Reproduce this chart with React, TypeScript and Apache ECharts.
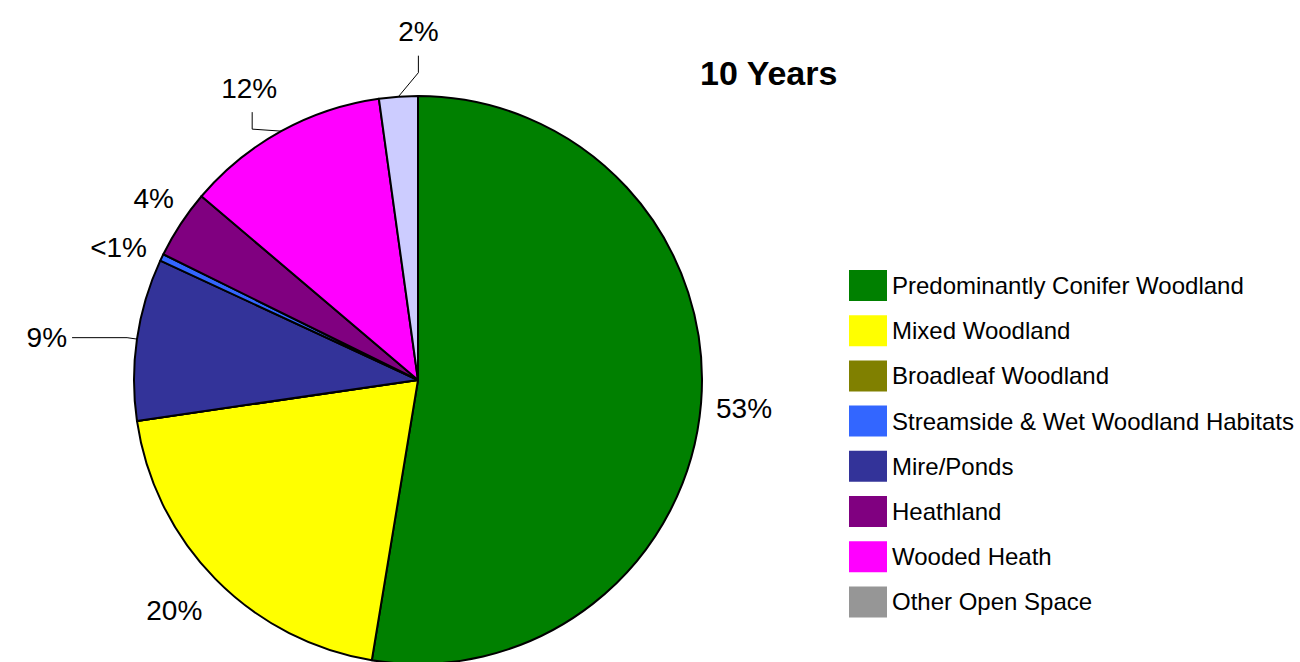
import React, { useEffect, useRef } from "react";
import * as echarts from "echarts";

// ---- data ----
const TITLE = "10 Years";

// legend order
const LEGEND_NAMES = [
  "Predominantly Conifer Woodland",
  "Mixed Woodland",
  "Broadleaf Woodland",
  "Streamside & Wet Woodland Habitats",
  "Mire/Ponds",
  "Heathland",
  "Wooded Heath",
  "Other Open Space",
];

// order of slices clockwise from 12 o'clock, as drawn
const SLICE_NAMES = [
  "Predominantly Conifer Woodland",
  "Mixed Woodland",
  "Broadleaf Woodland",
  "Mire/Ponds",
  "Streamside & Wet Woodland Habitats",
  "Heathland",
  "Wooded Heath",
  "Other Open Space",
];
const SLICE_VALUES = [52.6, 20.1, 0, 9.2, 0.4, 3.9, 11.6, 2.2];

// ---- styles ----
const SLICE_COLORS: Record<string, string> = {
  "Predominantly Conifer Woodland": "#008000",
  "Mixed Woodland": "#FFFF00",
  "Broadleaf Woodland": "#808000",
  "Streamside & Wet Woodland Habitats": "#3366FF",
  "Mire/Ponds": "#333399",
  Heathland: "#800080",
  "Wooded Heath": "#FF00FF",
  "Other Open Space": "#CCCCFF",
};
const LEGEND_COLORS: Record<string, string> = {
  ...SLICE_COLORS,
  "Other Open Space": "#969696",
};

const FONT = "'Liberation Sans', Arial, Helvetica, sans-serif";

// label placement tweaks (layout, not data)
type LabelCfg = {
  len: number;
  len2: number;
  dist: number;
  line: boolean;
  dx?: number;
  dy?: number;
  leader?: { bend: [number, number]; end: [number, number]; text: [number, number] };
};
const LABEL_CFG: Record<string, LabelCfg> = {
  "Predominantly Conifer Woodland": { len: 4, len2: 6, dist: 5, line: false, dy: 5 },
  "Mixed Woodland": { len: 0, len2: 8, dist: 5, line: false, dy: 32 },
  "Mire/Ponds": { len: 10, len2: 55, dist: 5, line: true },
  "Streamside & Wet Woodland Habitats": { len: 12, len2: 0, dist: 4, line: false, dy: -5 },
  Heathland: { len: 8, len2: 0, dist: 0, line: false, dy: -21 },
  "Wooded Heath": {
    len: 10,
    len2: 10,
    dist: 5,
    line: true,
    leader: { bend: [-29, -2], end: [-29, -19], text: [-32, -43] },
  },
  "Other Open Space": {
    len: 10,
    len2: 10,
    dist: 5,
    line: true,
    leader: { bend: [20, -24], end: [20, -41], text: [20, -65] },
  },
};

export default function App() {
  const ref = useRef<HTMLDivElement>(null);

  useEffect(() => {
    if (!ref.current) return;
    const chart = echarts.init(ref.current, undefined, { renderer: "svg" });

    const data = SLICE_NAMES.map((name, i) => {
      const cfg = LABEL_CFG[name];
      const item: any = {
        name,
        value: SLICE_VALUES[i],
        itemStyle: { color: SLICE_COLORS[name] },
      };
      if (!cfg || SLICE_VALUES[i] === 0) {
        item.label = { show: false };
        item.labelLine = { show: false };
      } else {
        item.label = { show: true, distanceToLabelLine: cfg.dist };
        item.labelLine = { show: cfg.line, length: cfg.len, length2: cfg.len2 };
      }
      return item;
    });

    const option: any = {
      animation: false,
      backgroundColor: "#ffffff",
      title: {
        text: TITLE,
        left: 700,
        top: 56,
        padding: 0,
        textStyle: { fontFamily: FONT, fontSize: 34, fontWeight: "bold", color: "#000" },
      },
      legend: {
        orient: "vertical",
        left: 849,
        top: 270,
        padding: 0,
        itemWidth: 38,
        itemHeight: 31,
        itemGap: 14.2,
        icon: "rect",
        selectedMode: false,
        itemStyle: { borderWidth: 0 },
        textStyle: { fontFamily: FONT, fontSize: 24, color: "#000" },
        data: LEGEND_NAMES.map((name) => ({
          name,
          itemStyle: { color: LEGEND_COLORS[name], borderWidth: 0 },
        })),
      },
      series: [
        {
          type: "pie",
          center: [418, 380],
          radius: [0, 284],
          startAngle: 90,
          clockwise: true,
          avoidLabelOverlap: false,
          stillShowZeroSum: true,
          itemStyle: { borderColor: "#000", borderWidth: 2 },
          emphasis: { disabled: true },
          label: {
            position: "outside",
            fontFamily: FONT,
            fontSize: 28,
            color: "#000",
            formatter: (p: any) => (p.value < 1 ? "<1%" : Math.round(p.percent) + "%"),
          },
          labelLine: { lineStyle: { color: "#000", width: 1 }, smooth: false },
          labelLayout: (p: any) => {
            const name = SLICE_NAMES[p.dataIndex];
            const cfg = LABEL_CFG[name];
            if (!cfg) return {};
            if (cfg.leader && p.labelLinePoints && p.labelLinePoints[0]) {
              const [x0, y0] = p.labelLinePoints[0];
              const L = cfg.leader;
              return {
                x: x0 + L.text[0],
                y: y0 + L.text[1],
                align: "center",
                verticalAlign: "middle",
                labelLinePoints: [
                  [x0, y0],
                  [x0 + L.bend[0], y0 + L.bend[1]],
                  [x0 + L.end[0], y0 + L.end[1]],
                ],
              };
            }
            return { dx: cfg.dx || 0, dy: cfg.dy || 0 };
          },
          data,
        },
      ],
    };

    chart.setOption(option);
    return () => chart.dispose();
  }, []);

  return (
    <div
      ref={ref}
      style={{ position: "absolute", left: 0, top: 0, width: 1300, height: 662 }}
    />
  );
}
